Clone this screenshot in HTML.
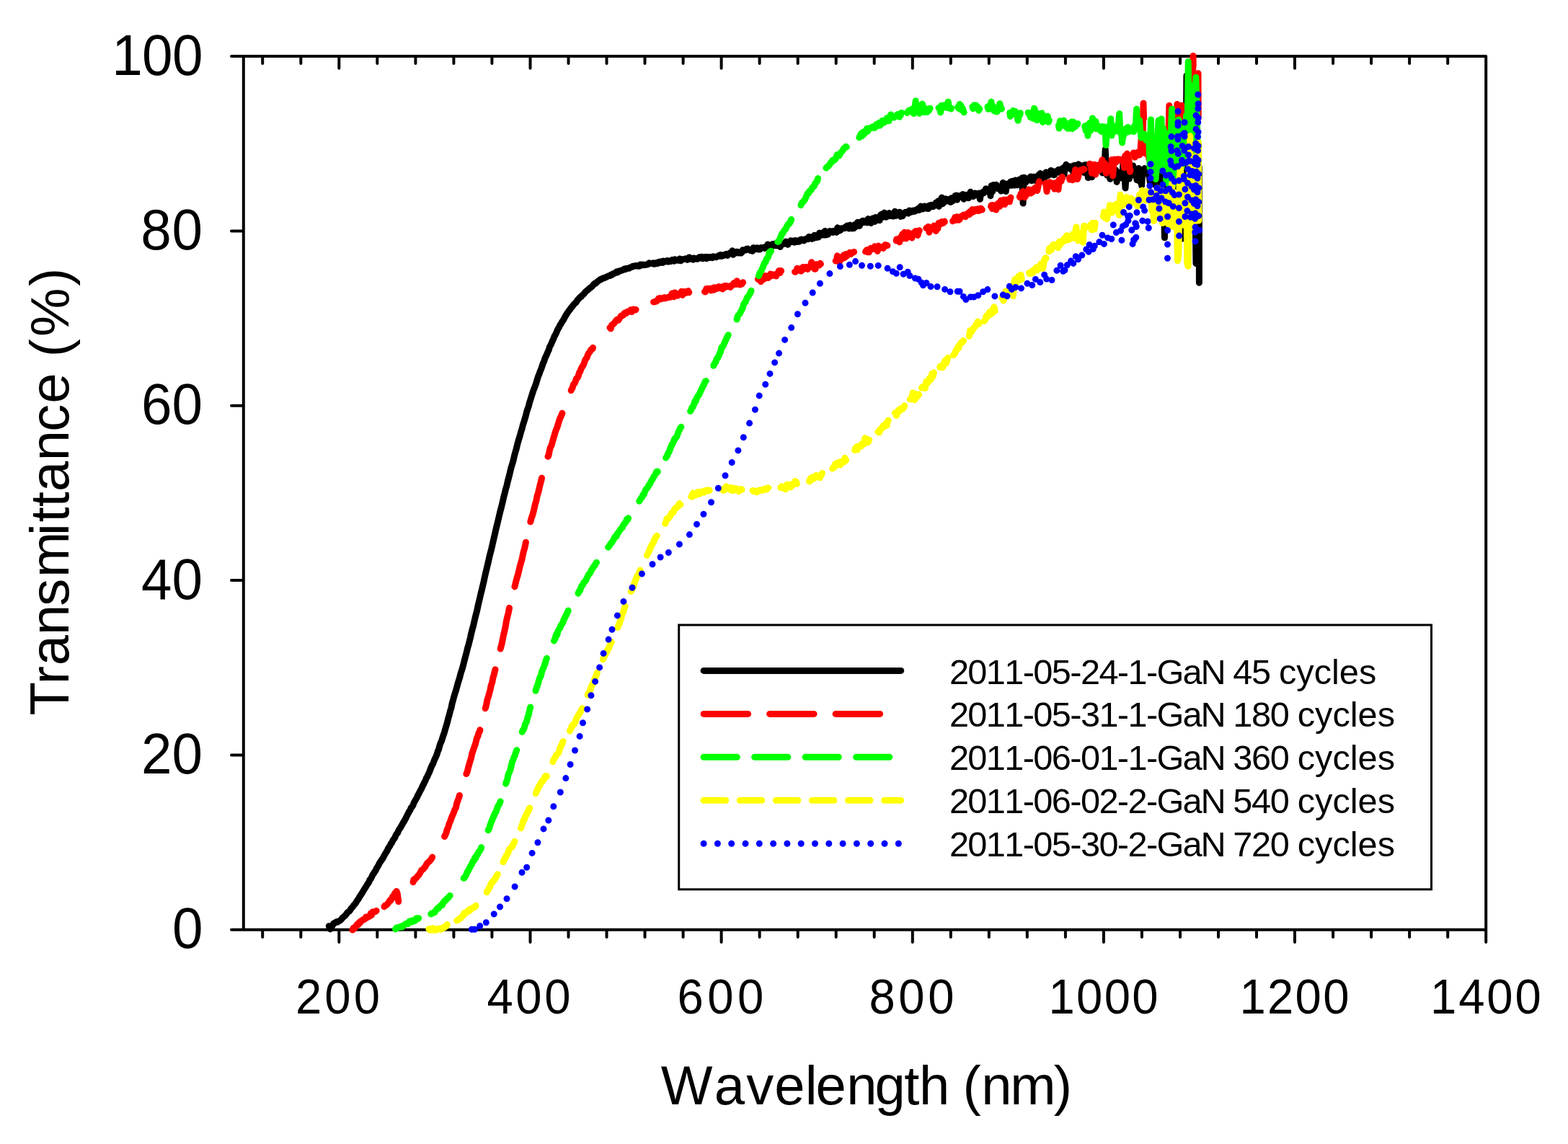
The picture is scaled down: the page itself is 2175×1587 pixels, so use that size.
<!DOCTYPE html>
<html lang="en"><head><meta charset="utf-8"><title>Transmittance vs Wavelength</title>
<style>html,body{margin:0;padding:0;background:#fff}body{width:2175px;height:1587px;overflow:hidden}svg{display:block}text{font-family:"Liberation Sans",Arial,Helvetica,sans-serif;fill:#000;font-kerning:none}</style></head><body>
<svg xmlns="http://www.w3.org/2000/svg" width="2175" height="1587" viewBox="0 0 2175 1587">
<rect width="2175" height="1587" fill="#fff"/>
<path d="M337.8 78.1 H2061.2 V1289.8 H337.8 Z M337.8 1289.8 H321 M337.8 1047.5 H321 M337.8 805.1 H321 M337.8 562.8 H321 M337.8 320.4 H321 M337.8 78.1 H321 M364.2 78.1 V87.9 M364.2 1289.8 V1300 M417.3 78.1 V87.9 M417.3 1289.8 V1300 M470.3 78.1 V94.8 M470.3 1289.8 V1306.9 M523.3 78.1 V87.9 M523.3 1289.8 V1300 M576.4 78.1 V87.9 M576.4 1289.8 V1300 M629.4 78.1 V87.9 M629.4 1289.8 V1300 M682.4 78.1 V87.9 M682.4 1289.8 V1300 M735.5 78.1 V94.8 M735.5 1289.8 V1306.9 M788.5 78.1 V87.9 M788.5 1289.8 V1300 M841.5 78.1 V87.9 M841.5 1289.8 V1300 M894.5 78.1 V87.9 M894.5 1289.8 V1300 M947.6 78.1 V87.9 M947.6 1289.8 V1300 M1000.6 78.1 V94.8 M1000.6 1289.8 V1306.9 M1053.6 78.1 V87.9 M1053.6 1289.8 V1300 M1106.7 78.1 V87.9 M1106.7 1289.8 V1300 M1159.7 78.1 V87.9 M1159.7 1289.8 V1300 M1212.7 78.1 V87.9 M1212.7 1289.8 V1300 M1265.8 78.1 V94.8 M1265.8 1289.8 V1306.9 M1318.8 78.1 V87.9 M1318.8 1289.8 V1300 M1371.8 78.1 V87.9 M1371.8 1289.8 V1300 M1424.8 78.1 V87.9 M1424.8 1289.8 V1300 M1477.9 78.1 V87.9 M1477.9 1289.8 V1300 M1530.9 78.1 V94.8 M1530.9 1289.8 V1306.9 M1583.9 78.1 V87.9 M1583.9 1289.8 V1300 M1637 78.1 V87.9 M1637 1289.8 V1300 M1690 78.1 V87.9 M1690 1289.8 V1300 M1743 78.1 V87.9 M1743 1289.8 V1300 M1796 78.1 V94.8 M1796 1289.8 V1306.9 M1849.1 78.1 V87.9 M1849.1 1289.8 V1300 M1902.1 78.1 V87.9 M1902.1 1289.8 V1300 M1955.1 78.1 V87.9 M1955.1 1289.8 V1300 M2008.2 78.1 V87.9 M2008.2 1289.8 V1300 M2061.2 1289.8 V1306.9" fill="none" stroke="#000" stroke-width="4" stroke-linecap="round" stroke-linejoin="round"/>
<path d="M456.3 1284.7L458.1 1288.9L462.7 1281.3L464 1280.4L465.4 1280L466.7 1278.7L468 1279.2L469.3 1278.4L470.7 1277.5L472 1276.9L473.3 1275.6L474.6 1273.7L476 1272.5L477.3 1271.3L478.6 1270.4L479.9 1268.9L481.3 1266.7L482.6 1265.3L483.9 1264.5L485.3 1263.3L486.6 1261.1L487.9 1259.2L489.2 1258.2L490.6 1255.9L491.9 1254.6L493.2 1253.1L494.5 1250.9L495.9 1248.7L497.2 1247.1L498.5 1244.5L499.8 1242.7L501.2 1240.5L502.5 1238.5L503.8 1236.3L505.1 1234.2L506.5 1231.9L507.8 1229.9L509.1 1227.6L510.5 1225.5L511.8 1223.6L513.1 1220.2L514.4 1219L515.8 1216.1L517.1 1213.4L518.4 1211.6L519.7 1209.4L521.1 1207.5L522.4 1204.4L523.7 1202.6L525 1200.3L526.4 1197.4L527.7 1195.3L529 1193.7L530.4 1191.5L531.7 1189.4L533 1186.9L534.3 1184.6L535.7 1182.2L537 1180.4L538.3 1177.3L539.6 1175.3L541 1173.2L542.3 1170.2L543.6 1169.1L544.9 1165.9L546.3 1163.9L547.6 1162.5L548.9 1159L550.2 1156.9L551.6 1155.4L552.9 1152L554.2 1149.9L555.6 1148L556.9 1145.6L558.2 1143.3L559.5 1140.9L560.9 1138.9L562.2 1136.4L563.5 1133.9L564.8 1131L566.2 1128.6L567.5 1125.7L568.8 1124.3L570.1 1120.8L571.5 1119.4L572.8 1117.4L574.1 1113.7L575.5 1111.3L576.8 1108.9L578.1 1106.9L579.4 1103.7L580.8 1101.4L582.1 1098.6L583.4 1096.1L584.7 1094L586.1 1090.5L587.4 1088.2L588.7 1085.5L590 1083L591.4 1079.3L592.7 1077.4L594 1074.3L595.4 1071.5L596.7 1068.2L598 1064.5L599.3 1061.8L600.7 1059.3L602 1055.8L603.3 1052.5L604.6 1049.9L606 1046.6L607.3 1042.2L608.6 1039.5L609.9 1034.2L611.3 1030.4L612.6 1027.8L613.9 1023.3L615.2 1019.6L616.6 1015.3L617.9 1010.7L619.2 1006.5L620.6 1001.6L621.9 996L623.2 991.7L624.5 986.5L625.9 982L627.2 975.7L628.5 971.2L629.8 966.2L631.2 961.6L632.5 957.8L633.8 952.8L635.1 948L636.5 943.7L637.8 939.4L639.1 934.1L640.5 929.8L641.8 925.7L643.1 920.6L644.4 915.4L645.8 910.2L647.1 905.3L648.4 899.7L649.7 895.5L651.1 890L652.4 884.7L653.7 878.8L655 873.6L656.4 868.7L657.7 863.1L659 857.3L660.3 852.2L661.7 846.8L663 840.5L664.3 835L665.7 829.2L667 823.4L668.3 818.5L669.6 812.7L671 807L672.3 800.7L673.6 795L674.9 789.7L676.3 783.8L677.6 778.4L678.9 772.3L680.2 767.2L681.6 762L682.9 756.2L684.2 750.6L685.6 744.4L686.9 739.1L688.2 733L689.5 728L690.9 722L692.2 716.5L693.5 710.9L694.8 706L696.2 700.5L697.5 695.1L698.8 689.2L700.1 684.4L701.5 678.5L702.8 674.4L704.1 668.5L705.4 663.5L706.8 658.2L708.1 652.5L709.4 647.5L710.8 643L712.1 638.6L713.4 632.6L714.7 627.8L716.1 623.1L717.4 617.6L718.7 612.7L720 608.4L721.4 603.8L722.7 598.9L724 595L725.3 589.7L726.7 585.3L728 581.2L729.3 576.8L730.7 571L732 567.1L733.3 563.4L734.6 558.1L736 554L737.3 549.7L738.6 545.6L739.9 541.7L741.3 538.2L742.6 534.7L743.9 531L745.2 526.5L746.6 522L747.9 519.1L749.2 515.3L750.6 512L751.9 508.3L753.2 504.1L754.5 501.6L755.9 497.2L757.2 494.4L758.5 491.6L759.8 488.3L761.2 485.6L762.5 480.9L763.8 478.9L765.1 476L766.5 472.6L767.8 470L769.1 466.4L770.4 464.3L771.8 461.5L773.1 458.1L774.4 455.6L775.8 453.3L777.1 450.6L778.4 448.9L779.7 446.2L781.1 444.4L782.4 442.2L783.7 439.6L785 437.4L786.4 435.1L787.7 433.2L789 431.3L790.3 429.9L791.7 427.6L793 426.2L794.3 424.6L795.7 422.6L797 421.1L798.3 420.2L799.6 418.7L801 416.2L802.3 415L803.6 413.5L804.9 412.1L806.3 411.4L807.6 409.7L808.9 408.6L810.2 407.5L811.6 405.4L812.9 404.2L814.2 403L815.5 402.2L816.9 400.6L818.2 399.7L819.5 398.8L820.9 397.6L822.2 396.2L823.5 394.6L824.8 393.2L826.2 393.2L827.5 392L828.8 390.5L830.1 389.7L831.5 388.8L832.8 387.5L834.1 387.5L835.4 386.3L836.8 385.9L838.1 385.7L839.4 384.8L840.8 384.5L842.1 383.8L843.4 383.1L844.7 382.5L846.1 382.6L847.4 381.2L848.7 381.4L850 379.7L851.4 379.9L852.7 379L854 378.1L855.3 376.7L856.7 378L858 376.2L859.3 375.8L860.6 375.8L862 375.2L863.3 374.9L864.6 374.1L866 373L867.3 373.7L868.6 372.4L869.9 372.5L871.3 372.3L872.6 372.2L873.9 371.1L875.2 370.7L876.6 370.3L877.9 369.2L879.2 369.4L880.5 369L881.9 368.6L883.2 369L884.5 368.5L885.9 369.3L887.2 369.1L888.5 366.9L889.8 367.9L891.2 367L892.5 367.7L893.8 367.3L895.1 367.6L896.5 367L897.8 367.1L899.1 366.3L900.4 364.8L901.8 365.4L903.1 365.4L904.4 365.5L905.8 364.9L907.1 366.4L908.4 365.1L909.7 365.8L911.1 364.5L912.4 365.6L913.7 363.5L915 364.5L916.4 363L917.7 364L919 364.5L920.3 362.1L921.7 362.4L923 363L924.3 362.5L925.6 361.4L927 363L928.3 362L929.6 362.8L931 361.8L932.3 360.6L933.6 360.9L934.9 362.2L936.3 359.8L937.6 360.4L938.9 361.1L940.2 361.3L941.6 361L942.9 359L944.2 361.8L945.5 359.8L946.9 359.8L948.2 359.7L949.5 359.4L950.9 358.7L952.2 359.1L953.5 360.4L954.8 358L956.2 356.9L957.5 359.4L958.8 359.2L960.1 359.4L961.5 360.2L962.8 357.9L964.1 358.6L965.4 358.8L966.8 359.4L968.1 359.1L969.4 357.2L970.7 356.6L972.1 357.6L973.4 356.2L974.7 358.7L976.1 357.1L977.4 357L978.7 356.4L980 358.7L981.4 357.3L982.7 356.5L984 357.4L985.3 356.5L986.7 357.1L988 357.7L989.3 355.9L990.6 356.5L992 356.3L993.3 356.8L994.6 356.1L996 355.3L997.3 354.4L998.6 355.2L999.9 353.5L1001.3 355.2L1002.6 354.3L1003.9 354.6L1005.2 353.2L1006.6 352.7L1007.9 352.3L1009.2 354.4L1010.5 352.6L1011.9 352.4L1013.2 350.3L1014.5 352.1L1015.9 347.8L1017.2 353.3L1018.5 351.1L1019.8 351.2L1021.2 349.2L1022.5 349.3L1023.8 351.1L1025.1 349.9L1026.5 350.4L1027.8 351.2L1029.1 350.2L1030.4 346.7L1031.8 347.6L1033.1 347.1L1034.4 347.1L1035.7 345.3L1037.1 345.1L1038.4 346.5L1039.7 346.4L1041.1 347.6L1042.4 346.2L1043.7 348.3L1045 343.7L1046.4 344L1047.7 345.9L1049 345L1050.3 343.7L1051.7 345.9L1053 346L1054.3 346.1L1055.6 343.5L1057 343.8L1058.3 343.8L1059.6 343.3L1061 344.4L1062.3 342.1L1063.6 343L1064.9 339.1L1066.3 343.1L1067.6 344.1L1068.9 341.4L1070.2 342.7L1071.6 338.5L1072.9 340.2L1074.2 338.2L1075.5 340.7L1076.9 340.7L1078.2 337.6L1079.5 338.1L1080.8 338.3L1082.2 342.5L1083.5 338.5L1084.8 338.5L1086.2 338.7L1087.5 338.3L1088.8 337.2L1090.1 335.2L1091.5 336L1092.8 339.3L1094.1 336.9L1095.4 335.6L1096.8 333.8L1098.1 335.6L1099.4 335.5L1100.7 334.1L1102.1 336.3L1103.4 333.6L1104.7 334L1106.1 335.4L1107.4 334.1L1108.7 335.3L1110 332.7L1111.4 332.1L1112.7 333.3L1114 332.6L1115.3 333.9L1116.7 332.3L1118 331.3L1119.3 331.8L1120.6 331.8L1122 328.5L1123.3 329.8L1124.6 329.2L1126 331.5L1127.3 328.3L1128.6 330.6L1129.9 326.3L1131.3 328L1132.6 329.6L1133.9 327L1135.2 329.1L1136.6 323.2L1137.9 326.4L1139.2 326.3L1140.5 325.4L1141.9 322.6L1143.2 326.1L1144.5 320.4L1145.8 325.9L1147.2 324.3L1148.5 325.2L1149.8 322.6L1151.2 320.6L1152.5 321.3L1153.8 321L1155.1 322.5L1156.5 320.5L1157.8 321.4L1159.1 321.1L1160.4 322.4L1161.8 315.8L1163.1 318.3L1164.4 319.9L1165.7 319.5L1167.1 316.7L1168.4 316.9L1169.7 316.8L1171.1 316.8L1172.4 315L1173.7 314.5L1175 313.1L1176.4 314.1L1177.7 317.1L1179 312.2L1180.3 315.4L1181.7 316.9L1183 313.1L1184.3 316.8L1185.6 311.6L1187 314.7L1188.3 310.9L1189.6 308.2L1190.9 310.8L1192.3 313.4L1193.6 308.1L1194.9 309.8L1196.3 306.5L1197.6 306.3L1198.9 308.5L1200.2 306.8L1201.6 307.9L1202.9 308.9L1204.2 303.6L1205.5 304.1L1206.9 305.2L1208.2 309.4L1209.5 303.7L1210.8 302.9L1212.2 304.4L1213.5 307.4L1214.8 301.6L1216.2 301.8L1217.5 302.1L1218.8 303.2L1220.1 305.8L1221.5 298.4L1222.8 297.2L1224.1 300.7L1225.4 301.1L1226.8 295.1L1228.1 298.2L1229.4 301.2L1230.7 297.8L1232.1 299.6L1233.4 295.5L1234.7 299.5L1236 298.8L1237.4 298.3L1238.7 300.1L1240 296.1L1241.4 293.3L1242.7 299.4L1244 295.6L1245.3 295.8L1246.7 294.8L1248 294.2L1249.3 300.4L1250.6 296.9L1252 299.7L1253.3 297L1254.6 295.4L1255.9 294.4L1257.3 295.3L1258.6 294.3L1259.9 296.1L1261.3 292L1262.6 293.9L1263.9 294.3L1265.2 292.4L1266.6 292.1L1267.9 293.4L1269.2 293.1L1270.5 291.3L1271.9 291.1L1273.2 289.5L1274.5 291.6L1275.8 289.7L1277.2 286.1L1278.5 288.5L1279.8 290.1L1281.2 288.9L1282.5 285.9L1283.8 289.1L1285.1 288.4L1286.5 288L1287.8 289.6L1289.1 285L1290.4 286.7L1291.8 284.3L1293.1 286.7L1294.4 286.6L1295.7 284.7L1297.1 284.8L1298.4 280.9L1299.7 283.7L1301 279.1L1302.4 286.4L1303.7 283.7L1305 277.1L1306.4 274.1L1307.7 282.8L1309 277.5L1310.3 280.3L1311.7 275.7L1313 278.5L1314.3 276.5L1315.6 279L1317 276.5L1318.3 280.4L1319.6 274.8L1320.9 279.3L1322.3 275.9L1323.6 276.9L1324.9 271.6L1326.3 270.9L1327.6 277.2L1328.9 271.5L1330.2 273.3L1331.6 273.1L1332.9 271.4L1334.2 273.7L1335.5 269.6L1336.9 276.3L1338.2 274.6L1339.5 270.2L1340.8 273.6L1342.2 273.1L1343.5 274.8L1344.8 272L1346.1 266.2L1347.5 268.8L1348.8 269L1350.1 272.6L1351.5 270.2L1352.8 267.9L1354.1 269.8L1355.4 270.9L1356.8 269.4L1358.1 268.1L1359.4 276.4L1360.7 267.9L1362.1 269.1L1363.4 266.3L1364.7 267.7L1366 265.3L1367.4 261.8L1368.7 265.5L1370 264.3L1371.4 263.2L1372.7 263.2L1374 271.7L1375.3 257.5L1376.7 265.7L1378 256.5L1379.3 261.5L1380.6 260.8L1382 256.3L1383.3 261.4L1384.6 260.3L1385.9 260.2L1387.3 262L1388.6 265.1L1389.9 259.8L1391.2 253.4L1392.6 257L1393.9 258.7L1395.2 265.6L1396.6 255L1397.9 255.6L1399.2 257.5L1400.5 256.5L1401.9 252L1403.2 257.3L1404.5 251.2L1405.8 253.5L1407.2 257.1L1408.5 250L1409.8 252.1L1411.1 256.8L1412.5 251.5L1413.8 249.2L1415.1 250L1416.5 253.2L1417.8 246.7L1419.1 282L1420.4 246.3L1421.8 246.8L1423.1 252.8L1424.4 248.9L1425.7 247.7L1427.1 249.7L1428.4 246.5L1429.7 245L1431 250.8L1432.4 249.9L1433.7 245.2L1435 249L1436.4 250.7L1437.7 247.9L1439 247.7L1440.3 242.8L1441.7 245.4L1443 240.5L1444.3 248.1L1445.6 244.3L1447 247.9L1448.3 241.9L1449.6 245.9L1450.9 238.9L1452.3 241.6L1453.6 243.7L1454.9 242.8L1456.2 241.2L1457.6 236.5L1458.9 236.9L1460.2 241.8L1461.6 242.7L1462.9 242.2L1464.2 237.7L1465.5 239.3L1466.9 239L1468.2 235.2L1469.5 238.2L1470.8 235.1L1472.2 241.1L1473.5 236.4L1474.8 232.7L1476.1 241.6L1477.5 231.1L1478.8 228.3L1480.1 232.9L1481.5 232.1L1482.8 230.7L1484.1 234L1485.4 231.1L1486.8 233.9L1488.1 238L1489.4 229.6L1490.7 229.4L1492.1 235.5L1493.4 230.9L1494.7 230.1L1496 227.8L1497.4 231.7L1498.7 231.4L1500 234.7L1501.3 229.7L1502.7 232.1L1504 239.6L1505.3 228.6L1506.7 228.8L1508 234.8L1509.3 246.5L1510.6 231.6L1512 238.7L1513.3 237L1514.6 245.7L1515.9 236.5L1517.3 235.9L1518.6 237.2L1519.9 237.7L1521.2 235.5L1522.6 229.2L1523.9 235L1525.2 233.1L1526.6 232.1L1527.9 237.6L1529.2 239.9L1530.5 238.4L1531.9 233.9L1533.2 207L1534.5 233.3L1535.8 243.3L1537.2 240.7L1538.5 235.3L1539.8 248.3L1541.1 242L1542.5 233.7L1543.8 235.7L1545.1 239.6L1546.5 238.1L1547.8 235.8L1549.1 252.4L1550.4 239L1551.8 240.2L1553.1 245.6L1554.4 239.9L1555.7 247.1L1557.1 239.5L1558.4 220.5L1559.7 238.9L1561 261L1562.4 240.6L1563.7 222.8L1565 233.4L1566.3 248.1L1567.7 237.4L1569 240.6L1570.3 243L1571.7 230L1573 237.6L1574.3 236.5L1575.6 237.6L1577 249.7L1578.3 235L1579.6 233.4L1580.9 251.8L1582.3 240.6L1583.6 257.5L1584.9 237.7L1586.2 235.8L1587.6 233.5L1588.9 240.8L1590.2 236.3L1591.6 234.9L1592.9 236.9L1594.2 245L1595.5 253.3L1596.9 240.4L1598.2 240L1599.5 243L1600.8 243.4L1602.2 256L1603.5 245.9L1604.8 245.8L1606.1 240.2L1607.5 252.6L1608.8 240.1L1610.1 254.8L1611.4 239.8L1612.8 255.4L1614.1 244.1L1615.4 329.8L1616.8 253.7L1618.1 241.8L1619.4 258.7L1620.7 240L1622.1 259L1623.4 238.8L1624.7 257L1626 237.2L1627.4 253L1628.7 238L1630 255.4L1631.3 237.9L1632.7 259.1L1634 258.1L1635.3 257L1636.7 256.4L1638 237.1L1639.3 258L1640.6 331L1642 285.1L1643.3 237.9L1644.6 298.7L1645.9 105L1647.3 292.9L1648.6 296.5L1649.9 238.1L1651.2 239.1L1652.6 290.9L1653.9 253L1655.2 249.6L1656.5 241.3L1657.9 289.8L1659 365.5L1660.3 240L1661.8 270L1663.3 232L1663.4 392.2" fill="none" stroke="#000" stroke-width="9" stroke-linecap="round" stroke-linejoin="round"/>
<path d="M489 1290.1L490.3 1287.2L491.7 1288.3L493 1285.6L494.3 1284L495.6 1282.1L497 1282.7L498.3 1279.5L499.6 1280L500.9 1277.6L502.3 1277.1L503.6 1275.8L504.9 1275.7L506.2 1274.9L507.6 1272.1L508.9 1273.3L510.2 1272.1L511.6 1271.5L512.9 1271.1L514.2 1267.1L515.5 1269.5L516.9 1265L518.2 1264.9L519.5 1264.9L520.8 1264.6L522.1 1263.5M533 1257.7L534.1 1256.2L535.4 1255.9L536.8 1254.8L538.1 1253.1L539.4 1251.7L540.7 1249.1L542.1 1249.2L543.4 1246.3L544.7 1243.6L546 1244.4L547.4 1239.5L548.7 1238.1L550 1236.4L551.3 1240L552.7 1250.7L552.7 1250.7M573.1 1223.8L573.9 1220.2L575.2 1220.4L576.5 1218.3L577.9 1217.3L579.2 1215.5L580.5 1214.3L581.9 1212.4L583.2 1210.1L584.5 1207.3L585.8 1206.5L587.2 1205.5L588.5 1203.8L589.8 1202.6L591.1 1199.9L592.5 1197.5L593.8 1196.4L595.1 1195.3L596.4 1194.1L597.8 1192.3L599.1 1190.3L599.6 1189M616.6 1160.5L617.7 1158.2L619 1155.2L620.3 1150.4L621.6 1148.1L623 1142.8L624.3 1140.1L625.6 1136.4L627 1132.7L628.3 1129.9L629.6 1126.8L630.9 1122.8L632.3 1120.9L633.6 1114.6L634.9 1111L636.2 1107.5L637.4 1103.4M646.8 1073.6L646.9 1073.5L648.2 1070.5L649.5 1065L650.8 1060.5L652.2 1055.6L653.5 1051.9L654.8 1045.2L656.1 1041.6L657.5 1037.4L658.8 1033.8L660.1 1029.6L661.4 1024L662.8 1021.5L664.1 1016.5L665.4 1014.6L665.8 1012.6M673.2 982.7L673.4 982.2L674.7 977.4L676 970.4L677.4 966.5L678.7 961.6L680 956.9L681.3 950.5L682.7 946.8L684 939.8L685.3 935.7L686.6 930L687 928.7M694.2 900.1L694.6 898.3L695.9 893.8L697.3 887L698.6 880.3L699.9 875.2L701.2 869L702.6 860.6L703.9 855.2L705.2 850.2L706.5 843.3M713.9 813.9L714.5 811.8L715.8 806.2L717.2 801.2L718.5 797.1L719.8 791.7L721.1 785.9L722.5 781.1L723.8 776.8L725.1 770.4L726.4 764.8L727.8 760.1L729.1 753.6L729.4 752.2M735.8 724L737.1 718.7L738.4 715.5L739.7 711L741 705.4L742.4 699.2L743.7 695.3L745 688.4L746.3 684.4L747.7 679L749 673.1L750.3 668.4L751.5 663.1M760 633.4L760.9 632.1L762.3 625L763.6 620.1L764.9 618.1L766.2 613.7L767.6 608.3L768.9 604.5L770.2 599.4L771.5 596.1L772.9 592.8L774.2 588.4L775.5 584.2L776.9 580L778.2 577.5L779.5 574.3L779.9 573.2M792.2 541.7L792.8 540.2L794.1 538L795.4 533.4L796.7 532.2L798.1 529.5L799.4 525.3L800.7 524.3L802.1 522.1L803.4 517L804.7 515.5L806 511.8L807.4 509L808.7 507.6L810 504.5L811.3 500.5L812.7 497.7L814 496.5L815.3 492.4L816.6 490L818 488.4L819.3 485.8L820.6 484.4L822 483.9L822.4 482.3M846 454.4L847.2 455.9L848.5 451L849.8 450L851.1 449.3L852.5 447.6L853.8 445.8L855.1 444.1L856.4 443.1L857.8 444.3L859.1 442.1L860.4 440.1L861.7 437.9L863.1 438L864.4 437.3L865.7 435L867.1 433.8L868.4 434.8L869.7 432.8L871 432.1L872.4 432.4L873.7 431.6L875 429.8L876.3 432.6L877.7 430.3L879 429.1L880.3 429.7L881.6 430L882 429.4M906.5 418.9L906.8 418.9L908.2 418.7L909.5 418L910.8 417.9L912.2 416.1L913.5 414L914.8 415.3L916.1 413.4L917.5 414.6L918.8 414L920.1 414L921.4 412.7L922.8 413.9L924.1 413.4L925.4 413.1L926.7 412.3L928.1 412.4L929.4 412.3L930.7 410.7L932.1 407L933.4 408.9L934.7 411.8L936 405.9L937.4 408.9L938.7 407.6L940 410.3L941.3 408.4L942.7 407.1L944 407.2L945.3 404.3L946.6 409.5L948 407.4L949.3 404.6L950.6 404.9L951.9 406.3L953.3 404.2L954.6 403.7L955.7 405.7M977.4 404.6L978.5 404.9L979.8 400.5L981.1 401.5L982.5 400.4L983.8 401L985.1 400.3L986.4 402.9L987.8 402L989.1 399.3L990.4 402.2L991.7 398.7L993.1 399.8L994.4 400.3L995.7 398.6L997 397.7L998.4 399.2L999.7 399.8L1001 398L1002.4 400.9L1003.7 398.9L1005 396.6L1006.3 398.4L1007.7 396.5L1009 397.5L1010.3 397.6L1011.6 397L1013 398.5L1014.3 396L1015.6 396.2L1016.9 394.6L1018.3 392.3L1019.6 393.6L1020.9 394.5L1022.3 389.7L1023.6 394.2L1024.9 394L1026.2 394.9L1027.6 393.4L1028.9 394.3L1030.2 392.2L1030.6 391.8M1051.4 387.2L1051.4 387.3L1052.8 387.9L1054.1 384.6L1055.4 390.8L1056.7 384.8L1058.1 382.7L1059.4 387.5L1060.7 384.7L1062 382.7L1063.4 383.2L1064.7 385.4L1066 385.4L1067.4 382.2L1068.7 380.1L1070 380.7L1071.3 382.6L1072.7 381.1L1074 381.4L1075.3 381.1L1076.6 383L1078 379.3L1079.3 379.3L1080.6 375.5L1081.9 378.7L1083.3 375.5L1083.6 375.9M1102.5 377.1L1103.2 377.4L1104.5 376.1L1105.8 372.2L1107.1 373.4L1108.5 372.8L1109.8 373.6L1111.1 376.1L1112.5 375L1113.8 370.4L1115.1 373L1116.4 372.5L1117.8 370.5L1119.1 370.8L1120.4 373.4L1121.7 370.6L1123.1 370.3L1124.4 369.5L1125.7 363.7L1127 369.9L1128.4 371.1L1129.7 373L1131 373.3L1132.4 366.6L1133.7 368.2L1135 366.8L1136.3 368.1L1137.7 365.2L1138.4 366.4M1159.2 361.9L1160.2 361.4L1161.5 354.8L1162.9 360.9L1164.2 364.1L1165.5 358.1L1166.8 357.1L1168.2 359.1L1169.5 354.9L1170.8 353.6L1172.1 357.3L1173.5 352.5L1174.8 355.1L1176.1 352.1L1177.5 352L1178.8 350.3L1180.1 352.6L1181.4 351.1L1182.8 350.6L1184.1 349.7L1184.6 349.5M1200.6 349.1L1201.3 348.1L1202.7 346.6L1204 349.8L1205.3 349.8L1206.6 346.5L1208 344.2L1209.3 345.7L1210.6 345.6L1211.9 344.7L1213.3 341.9L1214.6 342.2L1215.9 345L1217.2 348.5L1218.6 341.1L1219.9 344.1L1221.2 342.6L1222.6 343.6L1223.9 342.6L1225.2 344.4L1226.5 341.6L1227.9 339.6L1229.2 341L1230.5 340.3L1230.9 340.6M1243.2 334L1243.8 331.7L1245.1 332.1L1246.4 332L1247.8 335.8L1249.1 329.2L1250.4 330.9L1251.7 324.9L1253.1 330.7L1254.4 322.3L1255.7 329.1L1257 330.9L1258.4 325.2L1259.7 322.6L1261 328.6L1262.3 325.8L1263.7 328.1L1265 330L1266.3 323.7L1267.7 322.6L1269 323.2L1270.3 320.6L1271.6 322.4L1273 326.4L1274.3 321.3L1275.3 319.7M1284.8 316.5L1284.9 316.3L1286.2 316.6L1287.6 314.4L1288.9 322.2L1290.2 317.7L1291.5 317.7L1292.9 317.3L1294.2 315.4L1295.5 313.1L1296.8 315.7L1298.2 320.5L1299.5 315.8L1300.8 317.2L1302.1 309.3L1303.5 310.9L1304.8 310.7L1306.1 307.6L1307.5 309.6L1308.8 309.2L1310.1 307.1L1310.3 307.8M1321.6 306.8L1322 306.1L1323.4 304.7L1324.7 301.5L1326 305.4L1327.3 300.7L1328.7 301.6L1330 305.3L1331.3 304.3L1332.7 300.5L1334 299.7L1335.3 299.8L1336.6 298.1L1338 298.1L1339.3 300.7L1340.6 297.9L1341.9 296.9L1343.3 295.2L1344.6 297.6L1345.9 293.3L1347.2 295.4L1348.6 290.6L1349.9 292.2L1351.2 293.4L1352.6 290.5L1353.9 292.5L1355.2 291.6L1356.5 289.7L1357.9 292.5L1359.2 291.2L1360.5 289.1L1361.8 290.5L1362.3 291.1M1374.6 286.5L1375.1 284.7L1376.4 289.5L1377.8 284.5L1379.1 286.5L1380.4 290.4L1381.7 291L1383.1 285.4L1384.4 282L1385.7 282.5L1387 286.2L1388.4 278.1L1389.7 283.2L1391 280.2L1392.3 277.1L1393.7 283.5L1395 277.4L1396.3 277.1L1397.7 278.7L1399 279.8L1400.3 279.8L1401.6 274.6L1402 274M1414.3 272.9L1414.9 273.7L1416.2 268.4L1417.5 269.9L1418.9 265.5L1420.2 270.9L1421.5 273.7L1422.9 271.5L1424.2 269.2L1425.5 265.9L1426.8 262.8L1428.2 267.7L1429.5 268L1430.8 263.2L1432.1 266.6L1433.5 264.6L1434.8 262L1436.1 260.1L1437.4 261.7L1438.8 264.4L1440.1 258.1L1441.4 251.7L1441.7 253.3M1450.2 255.1L1450.7 253.9L1452 265.5L1453.4 255.7L1454.7 257.2L1456 252.7L1457.3 258.2L1458.7 253.8L1460 258.5L1461.3 254.6L1462.7 262.2L1464 253.5L1465.3 255.6L1466.6 255.3L1468 262.9L1469.3 249L1470.6 250.6L1471.9 251.6L1473.3 245.2L1473.8 247.2M1483.3 246.6L1483.9 249.2L1485.2 247.9L1486.5 245.3L1487.9 249.7L1489.2 244.7L1490.5 242L1491.8 235.2L1493.2 237.7L1494.5 248.6L1495.8 244.7L1497.1 237.3L1498.5 236.2L1499.8 235.5L1501.1 236.3L1502.4 234.6L1503.8 234.9L1504.1 234.7M1511.6 228.4L1511.7 227.2L1513.1 228.1L1514.4 240.3L1515.7 228.8L1517 234L1518.4 228.3L1519.7 241.9L1520.5 232M1525.2 236.1L1526.3 228.6L1527.6 226.1L1529 221.7L1530.3 230.7L1531.6 235.2L1533 227L1534.3 240.4L1535.6 230.6L1536.6 230.2M1542.1 222.4L1542.2 221.6L1543.6 243.9L1544.9 228L1546.2 220.9L1547.5 225.4L1548.9 224.2L1550.2 220.8L1551.5 222L1552.9 222.5L1553.1 220.9M1558.5 221.6L1559.5 232.7L1560.8 215.9L1562.1 216.8L1563.5 213.1L1564.8 218.4L1566.1 223.2L1567.4 238.2L1568.1 235.7M1572.3 211.9L1572.8 212.8L1574.1 218.1L1575.4 216.9L1576.7 213.8L1578.1 211.4L1579.4 212.1L1580.7 215L1582 207.2L1583.4 190.2L1584.5 207.5M1585.2 183.4L1586 143.3L1586.5 164.7M1587.2 194.7L1587.3 199.6L1588.7 213.1L1590 202.8L1591.3 209.8L1592.6 210.8L1594 221.2L1595.3 212.4L1596.2 208.1M1600 207.5L1600.6 198L1601.9 225.9L1603.3 203L1603.4 204.1M1605.9 201.3L1605.9 200.6L1607.2 201.2L1608.6 216.1L1609.9 203.9L1611.2 219.6L1612.3 203.3M1614.7 202.3L1615.2 194.2L1616.5 217.7L1617.9 197.7L1619.2 191.2L1619.4 194.6M1620.7 204L1621.8 146.5L1621.9 150.5M1622.6 180.5L1623.2 205L1624.3 168.1M1625.2 188.8L1625.8 208.3L1627.1 200.8L1628.3 166.5M1629.2 186.4L1629.8 204.4L1631.1 196.2L1631.9 161M1632.8 144.4L1633.8 160.3L1635.1 192.4L1635.5 179.1M1636.5 151.5L1637.7 196.3L1638.2 179.6M1639 149.6L1639.1 146.3L1640.4 185.7L1641 166.9M1641.9 149.1L1643.1 194.8L1643.6 179.1M1646.5 157.8L1647 160.7L1648.4 183.2L1649.7 156.7L1650.1 147.2M1651.2 128.1L1652.3 171.4L1653.7 171.4L1653.9 154.5M1654.3 124.5L1655 77.5L1655.2 92M1655.7 122L1656.3 157.2L1657.4 183.5M1658 165.3L1658.8 103.8M1662 101.8L1662.2 163.3" fill="none" stroke="#f00" stroke-width="9" stroke-linecap="round" stroke-linejoin="round"/>
<path d="M548.5 1288.9L549.8 1287.2L551.2 1286.6L552.5 1286.7L553.8 1286.3L555.1 1286L556.5 1285.1L557.8 1286.1L559.1 1283.8L560.4 1283.6L561.8 1282.4L563.1 1281.5L564.4 1281.3L565.7 1281.6L567.1 1279.3L568.4 1277.7L569.7 1278.1L571.1 1278.9L572.4 1276.9L573.7 1277.3L575 1277.7L576.4 1276.4L577.7 1273.7L579 1275L580.3 1273.7L580.7 1273.7M597.7 1268L598.9 1266.9L600.2 1267.1L601.6 1265.9L602.9 1265.8L604.2 1263.4L605.5 1261.9L606.9 1260.1L608.2 1260.1L609.5 1257.9L610.8 1257.1L612.2 1255.3L613.5 1255.5L614.8 1252.1L616.2 1250.2L617.5 1249.9L618.8 1248.1L620.1 1246.4L621.5 1245.8L622.8 1244.1L624.1 1242.5L624.2 1242.4M643.1 1218.3L644 1218L645.3 1216L646.7 1213.6L648 1209.7L649.3 1208.4L650.6 1205.7L652 1202.7L653.3 1200.9L654.6 1198.5L655.9 1195L657.3 1194.2L658.6 1190.1L659.9 1190.3L661.3 1185.9L662.6 1185.7L663.9 1181.7L665.2 1180.7L666.6 1178.5L667.6 1175.6M677.1 1151.7L677.2 1151.5L678.5 1149.7L679.8 1145.1L681.1 1141.3L682.5 1138L683.8 1134.8L685.1 1131.9L686.5 1128.2L687.8 1126.9L689.1 1123L690.4 1119.3L691.8 1116.6L693.1 1114.6L694.1 1111.8M701.7 1087.2L702.4 1084.5L703.7 1081.5L705 1074.7L706.4 1071.4L707.7 1068.5L709 1063.5L710.3 1057.3L711.7 1054.3L713 1050.3L714.3 1047.8L715.6 1043.4L716.8 1040.6M724.3 1015.4L724.9 1013.4L726.3 1012.1L727.6 1008.4L728.9 1003.5L730.2 1001.9L731.6 996.2L732.9 992.7L734.2 986.8L735.5 981.7L735.8 980.9M743 958.3L743.5 956.4L744.8 952.8L746.1 949.2L747.5 944L748.8 939.7L750.1 938.4L751.5 931.8L752.8 928.7L754.1 925.9L755.4 922.2L756.8 917.9L758.1 913.7L758.5 913.2M768.5 889L768.7 888.6L770 886L771.4 880.6L772.7 880.8L774 875.6L775.3 873.5L776.7 871.2L778 867.8L779.3 866.1L780.6 863.9L782 859.6L783.3 857.4L784.6 854.6L785.9 852.4L787.3 848.9L788.2 847M802 823.2L803.2 820L804.5 819.3L805.8 815.1L807.2 812.4L808.5 811.4L809.8 808.1L811.1 807L812.5 805.2L813.8 802.5L815.1 799.9L816.5 796.9L817.8 795.9L819.1 793.7L820.4 790.9L821.8 788.9L823.1 786.5L824.4 785.1L825.7 782.9L827.1 780.8L827.5 780.3M843.6 759.2L844.3 758.4L845.6 756.5L847 754.4L848.3 752.6L849.6 751.2L850.9 748.8L852.3 745.8L853.6 744.2L854.9 744.3L856.2 740.6L857.6 739.1L858.9 737L860.2 735.1L861.6 733.3L862.9 732.3L864.2 729.5L865.5 727.1L866.9 725.6L868.2 724L869.5 720.2L870.8 720.9L871.5 718.7M886.7 695.2L886.8 695.1L888.1 693L889.4 690.8L890.7 689.6L892.1 686L893.4 685.7L894.7 681.5L896 678.8L897.4 677.4L898.7 675.7L900 673.2L901.3 671.5L902.7 668.7L904 666.3L905.3 664.4L906.7 661.6L908 659.7L909.3 657.8L910.6 654.3L912 655.1L912.2 654.1M923.6 635.1L923.9 634.7L925.2 632.8L926.6 628.9L927.9 627.2L929.2 624L930.5 620.3L931.9 616.8L933.2 615.3L934.5 612.3L935.8 608.5L937.2 608L938.5 605.9L939.8 603L941.1 598.8L942.5 596.6L943.8 593.5L944.9 592.3M957.6 570.4L958.4 569.4L959.7 565.5L961 564.7L962.4 561.3L963.7 557.1L965 557L966.3 552.2L967.7 549.8L969 548.7L970.3 546.2L971.7 542.9L973 540.2L974.3 537.4L975.6 535L977 532L978.3 529.1L979.3 528.5M989.7 507.3L990.2 506.2L991.6 503.7L992.9 502.1L994.2 497.5L995.5 496.5L996.9 494.1L998.2 490.6L999.5 488.2L1000.8 481.9L1002.2 481.5L1003.5 479L1004.8 476L1006.1 473.2L1007.5 470.1L1008.8 467.3L1010.1 464.8L1010.2 464.7M1022 443.1L1022.1 443L1023.4 438.1L1024.7 436.7L1026 435.3L1027.4 432.7L1028.7 430.1L1030 427.8L1031.3 422.9L1032.7 420.3L1034 419L1035.3 415.4L1036.7 412.2L1038 411.1L1039.3 409L1040.6 406.6L1042 403.4L1042 403.3M1052.4 382.7L1052.6 382.4L1053.9 378.7L1055.2 377L1056.5 374.5L1057.9 371.4L1059.2 367.9L1060.5 364.6L1061.9 363.7L1063.2 359.3L1064.5 358.1L1065.8 355.8L1067.2 349.6L1068.5 350.2L1069.4 348.2M1078.8 335.5L1079.1 335.1L1080.4 334.8L1081.8 331.5L1083.1 328L1084.4 324.5L1085.7 323.8L1087.1 320.8L1088.4 319L1089.7 318.1L1091 314.9L1092.4 312.5L1093.7 310.5L1095 310.4L1096.3 308L1097.7 304.5L1097.7 304.4M1111 284.7L1112.3 281.4L1113.6 280.4L1114.9 278.7L1116.2 277.4L1117.6 274.6L1118.9 271.4L1120.2 268.2L1121.5 268.3L1122.9 265L1124.2 264.6L1125.5 262.9L1126.9 259.9L1128.2 259.4L1129.5 257.8L1130.8 254L1132.2 253.1L1133.5 251L1134.6 247.6M1145.9 233.1L1146.8 232L1148.1 231.3L1149.4 230L1150.7 228.5L1152.1 225.7L1153.4 225.3L1154.7 222.5L1156 222L1157.4 222.2L1158.7 221L1160 218.1L1161.3 214.6L1162.7 215.4L1164 216L1165.3 213.3L1166.6 211.6L1168 209.9L1169.3 208.1L1170.6 205.4L1172 205.4L1173.3 203.4L1174.3 204M1191.8 190.8L1191.9 190.7L1193.2 188.1L1194.5 185.3L1195.8 188.7L1197.2 183.1L1198.5 186.2L1199.8 184.3L1201.1 183.5L1202.5 178.2L1203.8 182L1205.1 178.8L1206.4 177.8L1207.8 177.3L1209.1 177.4L1210.4 175.8L1211.8 176.2L1213.1 177.4L1214.4 175.6L1215.7 172.5L1217.1 174.9L1218.4 171.3L1219.7 170.2L1221 174L1222.4 170.6L1223.7 167.5L1225 170.7L1226.3 169.1L1227.7 169.3L1229 168.1L1230.3 163.7L1231.6 164.7L1233 167.8L1234.3 162.9L1235.6 158.9L1237 161.8L1238.3 160.9L1239.6 163.1L1240.9 162.1L1242.3 161.2L1243.6 160.5L1244.9 158.6L1246.2 161.1L1247.6 162.1L1248.9 160.5L1250.2 156.4L1250.4 156.8M1258 156.4L1258.2 156.5L1259.5 154.8L1260.8 153.2L1262.2 154.5L1263.5 153.5L1264.8 151.4L1266.1 154.5L1267.5 157.6L1268.8 152.9L1270.1 140L1271.4 154.1L1272.8 153.1L1274.1 146.6L1275.4 157.4L1276.7 153.1L1278.1 152.9L1279.4 144.1L1280.7 149L1282.1 155.8L1283.4 150.2L1284.7 151.8L1286 155.5L1287.4 153L1288.7 153.3L1290 150.2L1290.1 150.5M1302 149.6L1303.3 149.4L1304.6 156L1305.9 146.4L1307.3 147.9L1308.6 147.2L1309.9 145.8L1311.2 149.1L1312.6 147.9L1313.9 149.4L1315.2 141.2L1316.5 149.9L1317.9 150.3L1319.2 151.1L1319.6 149.9M1328.6 148.5L1329.8 150.6L1331.1 144.5L1332.5 145.8L1333.8 152.7L1335.1 149.6L1336.4 154.2L1337.1 155.9M1348.9 148L1349.7 150.8L1351 145.9L1352.4 148L1353.7 145.9L1355 150.2L1356.3 148.4L1357.7 153.3L1358.7 151M1370 147.9L1370.9 151.3L1372.3 146.6L1373.6 150.8L1374.9 141.3L1376.2 149L1377.6 147.2L1378.9 153.9L1380.2 154.3L1381.5 151.6L1382.9 155L1384.2 152.7L1385.5 151.9L1386.8 143.7L1388.2 148.7L1389.5 151M1400.8 156.4L1401.4 161.4L1402.8 155.8L1404.1 158.3L1405.4 153.4L1406.7 156.2L1408.1 154.4L1409.4 157.1L1410.7 159.9L1412.1 167.2L1413.4 159.4L1414.7 159.4L1415.3 156.7M1426.1 156.2L1426.6 157.5L1428 157.6L1429.3 162.7L1430.6 156.5L1431.9 161.6L1433.3 164.5L1434.6 150.2L1435.9 154.4L1437.3 159.9L1438.6 166.8L1439.9 162L1441.2 163.7L1442.6 157.4L1443.9 164.3L1445.2 157L1446.5 169.4L1447.9 161.3L1449.2 167.2L1450.5 167.4L1451.8 166.9L1453.2 161.1L1454.5 169.3L1455.3 167M1468.4 173.8L1469.1 178L1470.4 167.8L1471.7 168.7L1473.1 169.6L1474.4 172.8L1475.7 167.1L1477 174.5L1478.4 176.1L1479.7 171.2L1481 178.3L1482.4 172.1L1483.7 172.1L1485 178.2L1486.3 169.1L1487.7 178.5L1489 169.1L1490.3 173.1L1491.6 175.7L1493 172.1L1494.3 172.8L1494.8 171.5M1504.7 175.1L1504.9 174.7L1506.2 181.3L1507.6 173.7L1508.9 188.2L1510.2 179.2L1511.5 170.6L1512.9 181.2L1514.2 178.6L1515.5 164M1520 168.5L1520.8 178.8L1522.2 173.7L1523.5 176.6L1524.8 179.9L1526.1 176.8L1527.5 182.3L1528.8 175.4L1530.1 175.9L1531.4 178.4L1532.8 176.1L1534.1 201.5L1535.4 184.1L1536.7 186.6L1538.1 181.6L1539.4 178.7L1540.7 164.7L1542 188L1543.4 181.5L1544.7 180.1L1546 182.8L1547.4 176.4L1548.7 174.5L1550 177.9L1551.3 174L1552.7 157.7L1554 184.8L1555.3 179.1L1556.6 198L1558 186.1L1559.3 187L1560.6 178.9L1561.9 178.4L1563.3 179.6L1564.6 176.4L1565.9 182.9L1567.3 179.9L1568.6 179.5L1569.9 179.8L1571.2 177.5L1572.6 182.6L1573.9 174L1575.2 178L1576.5 151.3L1577.9 175.7L1579.2 177.3L1580.5 166.6L1581.8 182.1L1583.2 191.1L1584.5 186.7L1585.8 185.6L1587.1 186L1588.5 186.7L1589.8 194.7L1591.1 189.6L1592.5 193.7L1593.8 194.3L1595.1 233L1596.4 166L1597.8 223.3L1599.1 194.4L1600.4 240.1L1601.7 197.5L1603.1 248.5L1604.4 229L1605.7 193L1607 167L1608.4 223.2L1609.7 219.4L1611 165L1612.4 237L1613.7 178.4L1615 222.4L1616.3 184.5L1617.7 249.3L1619 254.2L1620.3 238.5L1621.6 185.8L1623 243.7L1624.3 180.4L1625.6 151.3L1626.9 256.6L1628.3 247.9L1629.6 173.6L1630.9 243.4L1632.3 200L1633.6 231.9L1634.9 166.1L1636.2 231.6L1637.6 221.2L1638.9 232.3L1640.2 178.6L1641.5 226.4L1642.9 221.9L1644.2 218.7L1645.5 159.9L1646.8 207.5L1648.2 85.5L1649.5 169.9L1650.8 235.3L1652.1 118.3L1653.5 227.9L1654.8 135.5L1656.1 151.2L1657.5 156.9L1658.8 107.3L1660.1 156L1661.2 205L1662.2 248L1662.6 198" fill="none" stroke="#0f0" stroke-width="9" stroke-linecap="round" stroke-linejoin="round"/>
<path d="M594.9 1288.6L596.2 1290.3L597.6 1290.2L598.9 1287.9L600.2 1288L601.5 1287.8L602.9 1290.7L604.2 1289.3L605.5 1289.2L606.8 1289.6L608.2 1288.4L609.5 1289L610.8 1288L612.1 1289L613.5 1287.1L614.8 1287.3L616.1 1287.1L617.5 1285.2L618.8 1285.2L620.1 1282.8L620.4 1282.6M633.6 1277.1L634.7 1276.5L636 1275.8L637.3 1274.7L638.7 1273.9L640 1272.5L641.3 1271.3L642.7 1269.6L644 1266.4L645.3 1267.4L646.6 1266L648 1265L649.3 1263.1L650.6 1264L651.9 1260.9L653.3 1261.6L654.6 1260L655.9 1259.4L657.2 1258.6L658.6 1258.3L659.9 1256.5L660.1 1256.3M675.2 1237.8L675.8 1236.3L677.1 1234.6L678.5 1231.8L679.8 1229.9L681.1 1225.7L682.4 1225L683.8 1222.1L685.1 1221.7L686.4 1219.5L687.8 1217L689.1 1214.9L690.3 1212.8M697.9 1195.9L698.4 1194.8L699.7 1191.6L701 1190.3L702.3 1186.7L703.7 1185.6L705 1182.2L706.3 1178.4L707.7 1177.2L709 1175.9L710.3 1175L711.6 1171.6L713 1169.6L713.9 1167.2M722.5 1148.9L723.6 1146.5L724.9 1142.2L726.2 1137.4L727.5 1136.7L728.9 1132L730.2 1130.5L731.5 1127L732.9 1125.3L734.2 1122L734.7 1120.8M743.3 1100.7L743.5 1100.2L744.8 1096.1L746.1 1094.8L747.4 1090.6L748.8 1089.2L750.1 1086.5L751.4 1084.1L752.8 1083.6L754.1 1081.9L755.4 1078.6L756.7 1076.5L758.1 1077.2L758.4 1076.8M766.9 1056.8L767.3 1055.3L768.7 1052.7L770 1050.6L771.3 1047.4L772.7 1046.7L774 1045.7L775.3 1042.9L776.6 1038.5L778 1034.9L779.3 1032.9L780.6 1029.4L781.1 1028.4M790.5 1014L791.2 1012.1L792.5 1009.7L793.9 1006L795.2 1005.8L796.5 1004.5L797.9 1001.3L799.2 998L800.5 994.7L801.8 993L803.2 990.5L804.5 988.9L805.8 985.9L807.1 983.9L807.6 982.7M815.2 964.1L816.4 961.3L817.8 959.3L819.1 955.8L820.4 952L821.7 949.6L823.1 947.9L824.4 943.3L825.7 940L827 937.3L828.4 932.9L828.4 932.9M836.4 914.8L837.6 912L839 909.6L840.3 906.1L841.6 905L843 900.8L844.3 900L845.6 896.1L846.9 892.3L848.3 890.6L848.3 890.6M856.8 870.6L857.5 868.5L858.9 865.9L860.2 861.3L861.5 858.4L862.9 852.1L864.2 850.5L865.5 846.1L866.8 841.9L867.2 841M875.3 820.5L876.1 819.3L877.4 815.9L878.8 813.1L880.1 808.8L881.4 805.2L882.8 801.8L884.1 798.6L885.4 796.9L886.7 793.6L888 791.1M897.4 770.6L898.7 768L900 765.2L901.3 762.8L902.6 758.7L904 756.4L905.3 754L906.6 752.3L908 747.8L909.3 745.4L910.6 744.6L911.2 743.3M922.6 726.3L923.9 723.4L925.2 719.6L926.5 719.7L927.9 718.2L929.2 716.5L930.5 713.8L931.8 711.4L933.2 711.6L934.5 710.1L935.8 705.9L937.1 705.7L938.5 703.6L939.8 703.3L941.1 701.2L942.4 698.6L943.8 700.3L943.8 700.2M958.7 688.9L959.7 689L961 684.1L962.3 687.6L963.7 686.1L965 687L966.3 685.7L967.6 682.7L969 682.6L970.3 685.3L971.6 684.3L973 682.5L974.3 683.3L975.6 681.2L976.9 683L978.3 681L979.6 680L980.9 680.9L982.2 680.1L983.6 680.8L984.2 680.1M1001.5 678.9L1002.1 679L1003.5 680.6L1004.8 678.2L1006.1 678.4L1007.4 674.8L1008.8 677L1010.1 676.2L1011.4 678.7L1012.7 679.5L1014.1 679.4L1015.4 676.6L1016.7 680.8L1018.1 680L1019.4 679.2L1020.7 677.6L1022 679.8L1023.4 680.4L1024.7 681.5L1026 678.7L1027.3 679.4L1028.7 678.8L1029 679.2M1044 680.6L1044.6 680.8L1045.9 681.9L1047.2 681.1L1048.6 681.7L1049.9 682.7L1051.2 681.5L1052.5 680.2L1053.9 680.1L1055.2 679.7L1056.5 680.4L1057.8 679.3L1059.2 679.7L1060.5 678.2L1061.8 677.9L1063.2 679.1L1064.5 677.5L1065.7 676.8M1082.7 676.2L1083.1 676.6L1084.4 674.8L1085.7 677.1L1087 675.4L1088.4 675.4L1089.7 678.8L1091 672.9L1092.3 672.1L1093.7 673.1L1095 674.5L1096.3 676L1097.6 671.9L1099 673.8L1100.3 670.6L1101.6 671.4L1102.9 667.7L1104.3 668.1L1105.4 671.2M1122.4 667.3L1122.8 667.9L1124.2 663.8L1125.5 665.6L1126.8 662.1L1128.2 663.2L1129.5 663.9L1130.8 662.1L1132.1 659.3L1133.5 660.4L1134.8 661.1L1136.1 660.4L1137.4 662.8L1138.8 658.6L1140.1 657.5L1140.4 656.4M1154.6 650.1L1154.7 650L1156 648.1L1157.3 648.1L1158.7 643.4L1160 642.9L1161.3 644.7L1162.6 643.9L1164 640.9L1165.3 645.1L1166.6 642.3L1167.9 640.4L1169.3 641L1170.6 640.9L1171.9 635.2L1173.3 639L1173.5 638.6M1185.7 624.5L1186.5 622.1L1187.8 620.3L1189.2 624L1190.5 619L1191.8 620.3L1193.2 618L1194.5 619.2L1195.8 615.5L1197.1 616.3L1198.5 616.1L1199.8 607.8L1201.1 612.2L1202.4 609.1L1203.8 613.8L1205.1 611.2L1205.6 610.3M1217.9 599.2L1218.4 598.5L1219.7 600L1221 595.4L1222.3 595.3L1223.7 593.3L1225 590.4L1226.3 592.2L1227.6 589.3L1229 587.7L1230.3 590.1L1231.6 583.9L1232.1 583M1241.5 572.7L1242.2 573.6L1243.6 576.4L1244.9 572.8L1246.2 568.9L1247.5 570.3L1248.9 566.9L1250.2 566.7L1251.5 567.9L1252.8 566.8L1254.2 564.4L1254.7 562.8M1262.3 553.8L1263.5 553.8L1264.8 552.4L1266.1 544.8L1267.4 550.2L1268.8 554.8L1270.1 546.6L1271.4 551.2L1272.7 549.6L1274.1 547L1274.6 547.6M1278.4 538.3L1279.4 536.7L1280.7 536.7L1282 535.3L1283.4 538.7L1284.7 529.4L1286 530.4L1287.3 530.8L1288.7 525.6L1290 524.3L1291.3 526.4L1292.6 518.6L1294 522.4L1295.3 516.9L1295.4 516.9M1303.7 509.6L1304.6 507.8L1305.9 509.7L1307.2 509.9L1308.6 507.9L1309.9 501.9L1311.2 500L1312.5 503.9L1313.9 498.3L1315 496.3M1322.6 492.6L1323.1 491.9L1324.5 490.8L1325.8 486.1L1327.1 485.9L1328.5 481.6L1329.8 482.9L1331.1 478.6L1332.4 476.1L1333.8 475L1335.1 474.9L1336.4 472.6L1336.8 472.8M1344.3 466.1L1344.4 466.4L1345.7 458.4L1347 460.9L1348.4 459.1L1349.7 456.7L1351 454.5L1352.3 453.5L1353.7 450.9L1355 448.8L1356.3 446L1357.6 449.5M1365.1 445.6L1365.6 445L1366.9 443.2L1368.2 438.1L1369.6 439.2L1370.9 436.9L1372.2 433.3L1373.6 436.3L1374.9 431.4L1376.2 434.9L1377.5 428.8L1378.9 425.8L1380.2 431.3L1380.2 431.3M1389.7 413.4L1390.8 411.7L1392.1 417.1L1393.5 410.1L1394.8 403.9L1396.1 405.9L1397.4 404.1L1398.8 403.5L1400.1 402.2L1401.4 401.1L1402.7 397.2L1404.1 397.3L1405.4 410.8L1406.7 391.3L1408 387.3L1409.4 393.3L1410.7 387.9L1412 385.3L1413.4 382.7L1414.7 388.6L1416 381.2L1417.1 387.6M1427.5 378.3L1427.9 379.4L1429.3 378.7L1430.6 379.5L1431.9 375.8L1433.2 377.7L1434.6 374L1435.9 375L1437.2 371L1438.6 374.9L1439.9 373.6L1441.2 369.1L1442.5 369.7L1443.9 365.7L1445.2 372L1446.5 372.5L1447.8 365.4L1449.2 359L1450.5 357.8L1451.1 358.2M1454.9 348.9L1455.8 344.3L1457.1 346L1458.5 346.7L1459.8 341.7L1461.1 339.3L1462.4 339.5L1463.8 342.1L1465.1 339.3L1466.4 341.4L1467.7 343.8L1469.1 335.3L1470.4 340.1L1471.7 337.3L1473 334.4L1474.4 333.7L1475.7 331.5L1477 334.4L1478.3 329L1479.7 326.7L1481 330.3L1482.3 332.8L1483.7 330.9L1485 329.5L1486.3 330.3L1487.6 324.9L1489 327.3L1490.3 330.5L1491.6 321.7L1492.9 315L1494.3 331.1L1495.6 334L1496.9 322.5L1498.2 324.4L1499.6 325.2L1500.9 331.5L1502.2 336.2L1503.6 313.3L1504.1 313.5M1509.7 315.2L1510.2 314.1L1511.5 313.7L1512.8 311.6L1514.2 318.9L1515.5 309.3L1516.8 309.8L1518.1 318L1519.2 309.2M1530.5 300.5L1531.4 293.9L1532.7 302.2L1534.1 296L1535.4 303.7L1536.7 296.1L1538 297L1539.4 284.8L1540.7 292.8L1542 292.2L1543.3 294.7L1544.7 285.1L1546 288.9L1547.3 283.7L1548.7 283L1550 291.8L1551.3 289.8L1552.6 298.6L1554 270.1L1555.3 272.9L1556.6 283.8L1557 285M1563 273.6L1563.2 274.3L1564.6 283.9L1565.9 277.5L1567.2 278.6L1568.6 274.9L1569.9 276.3L1571.2 281.1L1572.5 278.1L1573.9 278.2L1575.2 281.7L1576.5 277.9L1577.8 286L1579.2 278L1580.5 270L1581.8 278.1L1583.1 274.5L1584.5 264.1L1585.8 273.7L1587.1 271.3L1588.4 265.7L1589.8 278.2L1591.1 268L1592.4 267L1593.8 264.5L1595.1 272.3L1596.4 268.8L1597.7 292.2L1599.1 276.1L1600.4 306.6L1601.7 296.6L1603 302.2L1604.4 298.2L1605.7 260.9L1607 262.9L1608.3 298.4L1609.7 293.8L1611 262.8L1612.3 309.6L1613.7 276L1615 300.5L1616.3 271.7L1617.6 307.5L1619 272.4L1620.3 310.7L1621.6 310.4L1622.9 271.1L1624.3 298.5L1625.6 254.5L1626.9 314.4L1628.2 272.8L1629.6 297L1630.9 298.3L1632.2 294.2L1633.5 361.7L1634.9 352L1636.2 245.8L1637.5 232L1638.9 312.6L1640.2 263.8L1641.5 292.4L1642.8 247.6L1644.2 307.7L1645.5 254.6L1646.8 366L1648.1 369.5L1649.5 257.4L1650.8 188.7L1652.1 316L1653.4 235.9L1654.8 257.8L1656.1 314.6L1657.4 224.2L1658.8 278L1660.1 215.5L1661.5 300L1662.6 198L1662.9 306" fill="none" stroke="#ff0" stroke-width="9" stroke-linecap="round" stroke-linejoin="round"/>
<path d="M654.4 1289.2h0M658.5 1289.2h0M665.7 1284.5h0M674.3 1279.8h0M685.2 1268h0M693.5 1258h0M703 1246.7h0M714.1 1230h0M724 1210.2h0M730.6 1203.2h0M738.1 1183.4h0M745.9 1168.8h0M754 1149.9h0M760.8 1138h0M767.8 1118.7h0M777.3 1099h0M784.8 1079.6h0M791.1 1060.5h0M797.5 1041h0M804.1 1021.4h0M808.5 1002.8h0M814.6 983.9h0M819.9 964.7h0M825.6 945.4h0M831.6 925.9h0M837.1 906.4h0M844.1 887.1h0M849 873.2h0M856.4 853.9h0M864.9 834.4h0M877 815.3h0M890.4 796h0M905 782.8h0M916.1 773h0M927.3 766.5h0M942.4 755h0M956.4 741.6h0M966.5 727.3h0M975.9 713.2h0M986.5 696.7h0M996.3 677.2h0M1006 659.7h0M1015.2 641.5h0M1023.9 624.9h0M1031.3 606.7h0M1039.6 587.1h0M1047.4 568.2h0M1053.2 548.9h0M1061.7 533.2h0M1068 518.4h0M1074.6 502.9h0M1080.5 490.1h0M1088.6 471.4h0M1097.7 454.6h0M1106.4 435.7h0M1117 420.2h0M1127.2 406h0M1137.4 393.2h0M1150.9 379.6h0M1165.4 369.6h0M1178.4 367.3h0M1186.6 362.6h0M1195.5 368.2h0M1207.3 369.3h0M1218.2 368.4h0M1231.1 372.2h0M1238.4 376.7h0M1243.3 379.2h0M1248.2 370.7h0M1253.1 380.2h0M1259.2 377.3h0M1261.9 382.5h0M1269.4 386h0M1273.9 387.3h0M1278.1 392h0M1280.5 395.8h0M1285 392.5h0M1291 397.5h0M1300 397.7h0M1310.6 401.4h0M1318 404.8h0M1328.2 404.3h0M1331.1 404.3h0M1336.4 411.4h0M1339.8 415.6h0M1346.2 412h0M1350.9 412h0M1356.8 409.7h0M1363.7 404.7h0M1369.9 401.6h0M1379.9 410.9h0M1391.3 409h0M1397 410.7h0M1400.3 397.2h0M1403.4 401.4h0M1408.8 398.4h0M1416.5 399.9h0M1425 393.3h0M1431.7 395.6h0M1436.4 387.4h0M1442.8 391.6h0M1448.7 381.3h0M1451.7 387.1h0M1459 388.5h0M1465.9 375.3h0M1471.1 368.2h0M1474.7 376.3h0M1477 374.8h0M1480.3 367.8h0M1485.5 362.1h0M1488.8 365.4h0M1492.2 355.7h0M1495.5 359.7h0M1500.8 354h0M1506.8 346h0M1510.1 349.3h0M1511.1 339.4h0M1516.3 345.5h0M1518.3 341.3h0M1524.8 335.6h0M1529 326.2h0M1531.4 338.4h0M1536.6 329.9h0M1541.8 331.5h0M1544.3 312h0M1548.4 322.6h0M1554.5 320h0M1555.9 333.3h0M1557.4 313.9h0M1558.5 294.5h0M1561.6 311.5h0M1564.9 306.3h0M1564.5 299.7h0M1567.3 299.2h0M1566.2 286.9h0M1569.8 319.1h0M1571.1 338.4h0M1573.4 332.8h0M1575.8 329.2h0M1575.3 310.1h0M1576.3 314.3h0M1576.9 294.7h0M1579.4 277.5h0M1584.8 306.3h0M1585.7 286.9h0M1587.6 292.1h0M1591.9 307.3h0M1593.3 316.2h0M1662.1 144h0M1661.8 150.5h0M1634 154.5h0M1659 160.1h0M1662.1 163.8h0M1634 169.8h0M1643.1 169.8h0M1661.8 169.8h0M1634 174h0M1659 179.1h0M1662.1 183.1h0M1643.1 184.8h0M1640.8 186.5h0M1624.9 189.6h0M1633.7 189.3h0M1643.1 189.3h0M1661.5 189.6h0M1634 193.3h0M1658.7 199h0M1662.1 202.4h0M1624.1 203.5h0M1640 202.4h0M1648.5 203.5h0M1656.4 205.8h0M1624.9 209.2h0M1632.9 208.9h0M1642.8 208.9h0M1661.5 208.9h0M1634.3 213.2h0M1648.5 214.9h0M1658.7 218.8h0M1662.1 222.2h0M1623.5 223.1h0M1639.4 222.2h0M1648.5 223.4h0M1656.4 225.1h0M1661.8 131.2h0M1596 227.7h0M1596 238.4h0M1596 247.2h0M1594.9 257.7h0M1596.6 266.8h0M1594 277.3h0M1612.8 237h0M1617.3 243.3h0M1622.4 242.7h0M1624.7 228.5h0M1629.8 231.9h0M1633.7 230.8h0M1639.4 226.8h0M1645.1 225.7h0M1650.8 223.4h0M1661 228.5h0M1657.6 227.4h0M1647.9 234.7h0M1653.6 237.6h0M1659.3 238.2h0M1662.7 241.6h0M1661 247.2h0M1656.4 243.8h0M1650.8 242.7h0M1642.2 244.4h0M1642.2 248.4h0M1635.4 250.6h0M1629.2 251.8h0M1625.2 247.2h0M1612.8 256.3h0M1604.8 260.8h0M1609.9 264.8h0M1616.7 264.8h0M1621.8 262h0M1626.4 267.1h0M1629.2 270.5h0M1635.4 269.9h0M1647.4 254h0M1643.9 262.5h0M1653 258.6h0M1658.7 257.4h0M1662.7 260.8h0M1661 266.5h0M1656.4 263.1h0M1604.2 271.6h0M1611 275h0M1607.1 279.6h0M1599.7 276.7h0M1616.7 280.1h0M1621.3 281.8h0M1627.2 286.4h0M1635.4 288.6h0M1607.9 289.2h0M1647.4 273.3h0M1643.9 281.8h0M1653 277.9h0M1658.7 276.7h0M1662.7 280.1h0M1661 285.8h0M1656.4 282.4h0M1646.8 292.6h0M1643.9 300.5h0M1653 297.1h0M1658.1 296h0M1662.7 299.4h0M1657.6 303.4h0M1609.1 303.4h0M1619.6 300.5h0M1635.4 307.4h0M1619.5 358.3h0M1619.5 339.1h0M1619.5 319.5h0M1635.6 327.1h0M1658 315.1h0M1663.7 319.2h0M1657.7 322.1h0M1658 334.7h0M1651.4 301.3h0M1574.8 309.8h0M1576.1 314.5h0M1569.8 319.2h0M1575.8 329.3h0M1572.6 332.8h0M1571 338.4h0M1593.1 316.1h0" fill="none" stroke="#00f" stroke-width="9" stroke-linecap="round"/>
<rect x="941.7" y="867" width="1043.8" height="366.8" fill="#fff" stroke="#000" stroke-width="3"/>
<path d="M976.1 930.4 H1249.7" stroke="#000" stroke-width="9" stroke-linecap="round" fill="none"/>
<path d="M976.1 990.4 H1249.7" stroke="#f00" stroke-width="9" stroke-linecap="round" fill="none" stroke-dasharray="61.5 30"/>
<path d="M976.1 1050.3 H1249.7" stroke="#0f0" stroke-width="9" stroke-linecap="round" fill="none" stroke-dasharray="46.2 24.3"/>
<path d="M976.1 1110.2 H1249.7" stroke="#ff0" stroke-width="9" stroke-linecap="round" fill="none" stroke-dasharray="30.5 19.6"/>
<path d="M976.1 1170.2 H1249.7" stroke="#00f" stroke-width="9" stroke-linecap="round" fill="none" stroke-dasharray="0 19.3"/>
<text transform="translate(239 1315.1) scale(0.96 1)" font-size="79.6">0</text>
<text transform="translate(196 1073.4) scale(0.96 1)" font-size="79.6">20</text>
<text transform="translate(196 830.7) scale(0.96 1)" font-size="79.6">40</text>
<text transform="translate(196 588) scale(0.96 1)" font-size="79.6">60</text>
<text transform="translate(195.2 346.3) scale(0.96 1)" font-size="79.6" letter-spacing="0.83">80</text>
<text transform="translate(155.2 103.6) scale(0.96 1)" font-size="79.6" letter-spacing="-0.62">100</text>
<text transform="translate(410 1405.8) scale(0.95 1)" font-size="68.7" letter-spacing="4.27">200</text>
<text transform="translate(675.5 1405.8) scale(0.95 1)" font-size="68.7" letter-spacing="3.74">400</text>
<text transform="translate(939.5 1405.8) scale(0.95 1)" font-size="68.7" letter-spacing="5.74">600</text>
<text transform="translate(1205.5 1405.8) scale(0.95 1)" font-size="68.7" letter-spacing="4.79">800</text>
<text transform="translate(1454.5 1405.8) scale(0.95 1)" font-size="68.7" letter-spacing="2.44">1000</text>
<text transform="translate(1719.5 1405.8) scale(0.95 1)" font-size="68.7" letter-spacing="2.37">1200</text>
<text transform="translate(1984 1405.8) scale(0.95 1)" font-size="68.7" letter-spacing="3">1400</text>
<text transform="translate(1316.9 948.7)" font-size="48.7"><tspan letter-spacing="-1.61">2011-05-24-1-</tspan><tspan letter-spacing="-2">GaN </tspan><tspan letter-spacing="-1.3">45 </tspan><tspan letter-spacing="0">cycles</tspan></text>
<text transform="translate(1316.9 1008.43)" font-size="48.7"><tspan letter-spacing="-1.61">2011-05-31-1-</tspan><tspan letter-spacing="-2">GaN </tspan><tspan letter-spacing="-1.3">180 </tspan><tspan letter-spacing="0">cycles</tspan></text>
<text transform="translate(1316.9 1068.16)" font-size="48.7"><tspan letter-spacing="-1.61">2011-06-01-1-</tspan><tspan letter-spacing="-2">GaN </tspan><tspan letter-spacing="-1.3">360 </tspan><tspan letter-spacing="0">cycles</tspan></text>
<text transform="translate(1316.9 1127.89)" font-size="48.7"><tspan letter-spacing="-1.61">2011-06-02-2-</tspan><tspan letter-spacing="-2">GaN </tspan><tspan letter-spacing="-1.3">540 </tspan><tspan letter-spacing="0">cycles</tspan></text>
<text transform="translate(1316.9 1187.62)" font-size="48.7"><tspan letter-spacing="-1.61">2011-05-30-2-</tspan><tspan letter-spacing="-2">GaN </tspan><tspan letter-spacing="-1.3">720 </tspan><tspan letter-spacing="0">cycles</tspan></text>
<text transform="translate(0 1532)" font-size="76" x="916.8 990.8 1035.2 1074.2 1116.8 1131.5 1174.3 1213.6 1254.2 1275 1317.27 1335.6 1361.2 1401.2 1461.7">Wavelength (nm)</text>
<text transform="translate(95.1 991.4) rotate(-90)" font-size="76" x="-1 42.1 68.1 110.3 150.6 190.4 248.3 267 288.2 309.4 352.1 392.7 431.7 473.97 496.2 524.4 594.3">Transmittance (%)</text>
</svg></body></html>
